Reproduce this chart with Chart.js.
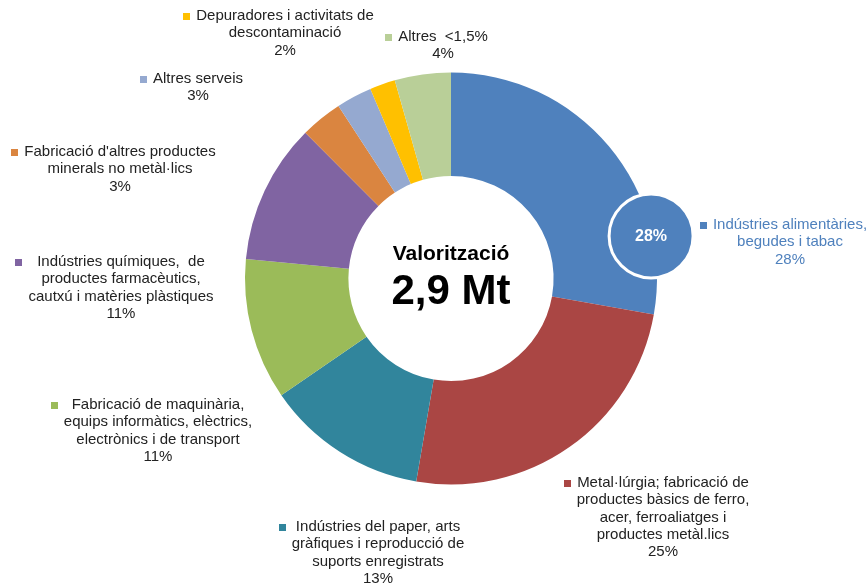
<!DOCTYPE html>
<html>
<head>
<meta charset="utf-8">
<script src="https://cdn.jsdelivr.net/npm/chart.js@4"></script>
<style>
html,body{margin:0;padding:0;background:#fff;}
#wrap{width:868px;height:584px;position:relative;}
</style>
</head>
<body>
<div id="wrap"><canvas id="c" width="868" height="584"></canvas></div>
<script>
// ---- data ----
const categories = [
  ["Indústries alimentàries,", "begudes i tabac"],
  ["Metal·lúrgia; fabricació de", "productes bàsics de ferro,", "acer, ferroaliatges i", "productes metàl.lics"],
  ["Indústries del paper, arts", "gràfiques i reproducció de", "suports enregistrats"],
  ["Fabricació de maquinària,", "equips informàtics, elèctrics,", "electrònics i de transport"],
  ["Indústries químiques,  de", "productes farmacèutics,", "cautxú i matèries plàstiques"],
  ["Fabricació d'altres productes", "minerals no metàl·lics"],
  ["Altres serveis"],
  ["Depuradores i activitats de", "descontaminació"],
  ["Altres  <1,5%"]
];
const shares = [27.8, 24.9, 12.7, 11.1, 11.0, 3.3, 2.8, 2.0, 4.4];
const colors = ["#4F81BD", "#AA4644", "#31859C", "#9BBB59", "#8064A2", "#DA8540", "#95A9D0", "#FFC000", "#B9CF98"];
const centerTitle = "Valorització";
const centerValue = "2,9 Mt";

// ---- label layout (text anchor: centre x, first line y) ----
const labelAnchors = [[790,225],[663,483],[378,527],[158,405],[121,262],[120,152],[198,79],[285,16],[443,37]];
const labelColors = ["#4F81BD","#222","#222","#222","#222","#222","#222","#222","#222"];
const calloutAngleDeg = 78;

const total = shares.reduce((a,b)=>a+b,0);
const pct = shares.map(v => Math.round(v/total*100) + "%");

const labelPlugin = {
  id: 'labels',
  afterDraw(chart) {
    const ctx = chart.ctx;
    const arcs = chart.getDatasetMeta(0).data;
    const a0 = arcs[0];
    const cx = a0.x, cy = a0.y, R = a0.outerRadius;
    ctx.save();
    // centre text
    ctx.textAlign = 'center';
    ctx.textBaseline = 'middle';
    ctx.fillStyle = '#000';
    ctx.font = 'bold 21px "Liberation Sans", Arial, sans-serif';
    ctx.fillText(centerTitle, cx, cy - 24.5);
    ctx.font = 'bold 42px "Liberation Sans", Arial, sans-serif';
    ctx.fillText(centerValue, cx, cy + 13.5);
    // callout bubble for the largest slice
    const th = calloutAngleDeg * Math.PI / 180;
    const bx = cx + R * Math.sin(th) * 0.993, by = cy - R * Math.cos(th) * 0.993;
    ctx.beginPath();
    ctx.arc(bx, by, 42, 0, Math.PI*2);
    ctx.fillStyle = colors[0];
    ctx.fill();
    ctx.lineWidth = 3;
    ctx.strokeStyle = '#fff';
    ctx.stroke();
    ctx.fillStyle = '#fff';
    ctx.font = 'bold 16px "Liberation Sans", Arial, sans-serif';
    ctx.fillText(pct[0], bx, by + 1);
    // labels
    ctx.font = '15px "Liberation Sans", Arial, sans-serif';
    const lh = 17.3;
    categories.forEach((lines, i) => {
      const [x, y] = labelAnchors[i];
      const all = lines.concat([pct[i]]);
      let maxW = 0;
      all.forEach(l => { maxW = Math.max(maxW, ctx.measureText(l).width); });
      ctx.fillStyle = labelColors[i];
      all.forEach((l, k) => ctx.fillText(l, x, y + k*lh));
      ctx.fillStyle = colors[i];
      ctx.fillRect(Math.round(x - maxW/2 - 6 - 7), Math.round(y - 3.5), 7, 7);
    });
    ctx.restore();
  }
};

new Chart(document.getElementById('c'), {
  type: 'doughnut',
  data: {
    labels: categories.map(l => l.join(' ')),
    datasets: [{
      data: shares,
      backgroundColor: colors,
      borderWidth: 0,
      hoverBorderWidth: 0,
      hoverOffset: 0
    }]
  },
  options: {
    responsive: false,
    animation: false,
    events: [],
    radius: 206,
    cutout: '49.8%',
    layout: { padding: { left: 34, right: 0, top: 0, bottom: 27 } },
    plugins: { legend: { display: false }, tooltip: { enabled: false } }
  },
  plugins: [labelPlugin]
});
</script>
</body>
</html>
